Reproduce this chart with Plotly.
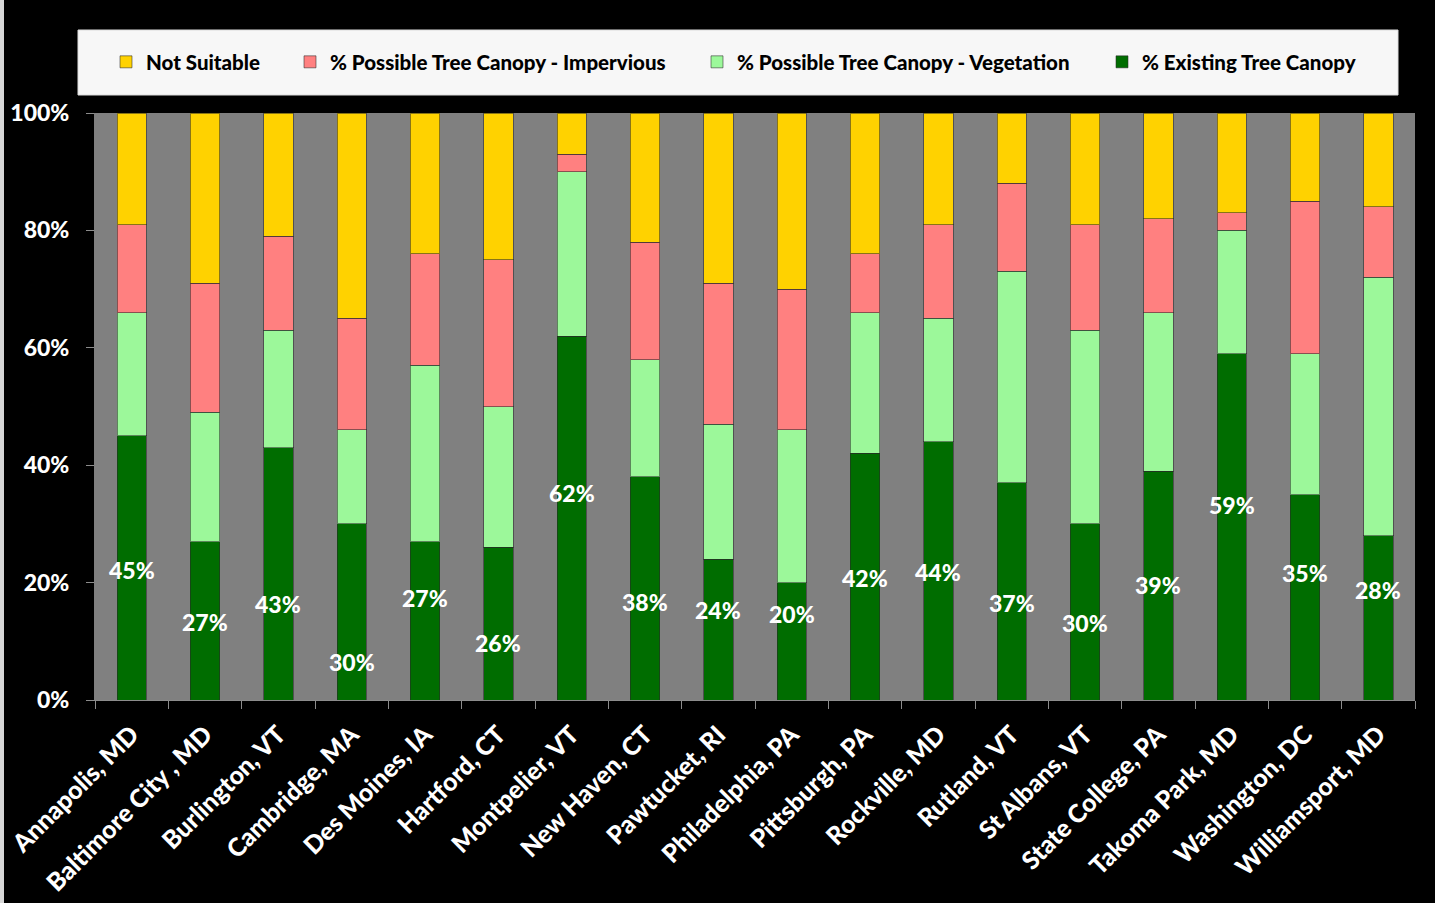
import plotly.graph_objects as go

# Tree canopy assessment by city (share of land area, %)
cities = [
    "Annapolis, MD", "Baltimore City , MD", "Burlington, VT", "Cambridge, MA",
    "Des Moines, IA", "Hartford, CT", "Montpelier, VT", "New Haven, CT",
    "Pawtucket, RI", "Philadelphia, PA", "Pittsburgh, PA", "Rockville, MD",
    "Rutland, VT", "St Albans, VT", "State College, PA", "Takoma Park, MD",
    "Washington, DC", "Williamsport, MD",
]
existing_canopy = [45, 27, 43, 30, 27, 26, 62, 38, 24, 20, 42, 44, 37, 30, 39, 59, 35, 28]
possible_vegetation = [21, 22, 20, 16, 30, 24, 28, 20, 23, 26, 24, 21, 36, 33, 27, 21, 24, 44]
possible_impervious = [15, 22, 16, 19, 19, 25, 3, 20, 24, 24, 10, 16, 15, 18, 16, 3, 26, 12]
not_suitable = [19, 29, 21, 35, 24, 25, 7, 22, 29, 30, 24, 19, 12, 19, 18, 17, 15, 16]

# Height (in %) at which each existing-canopy label is written
label_heights = [22.1, 13.3, 16.4, 6.5, 17.4, 9.7, 35.3, 16.7, 15.3, 14.7,
                 20.8, 21.8, 16.5, 13.1, 19.6, 33.2, 21.6, 18.7]

y_ticks = [0, 20, 40, 60, 80, 100]
y_tick_text = ["0%", "20%", "40%", "60%", "80%", "100%"]

W, H = 1435, 903
PLOT_L, PLOT_R, PLOT_T, PLOT_B = 95, 1415, 113, 700
FONT = "Lato"
WEIGHT = 900


def px_x(px):
    return (px - PLOT_L) / (PLOT_R - PLOT_L)


def px_y(py):
    return (PLOT_B - py) / (PLOT_B - PLOT_T)


series = [
    ("% Existing Tree Canopy", existing_canopy, "#006d00", "legend4", 1142),
    ("% Possible Tree Canopy - Vegetation", possible_vegetation, "#9cf89a", "legend3", 737),
    ("% Possible Tree Canopy - Impervious", possible_impervious, "#ff8080", "legend2", 330),
    ("Not Suitable", not_suitable, "#ffd200", "legend", 146),
]

fig = go.Figure()
legend_layout = {}
for name, values, color, legend_id, text_px in series:
    fig.add_trace(go.Bar(
        x=cities, y=values, name=name, legend=legend_id,
        marker=dict(color=color, line=dict(color="rgba(40,40,40,0.55)", width=1)),
        hoverinfo="x+y+name",
    ))
    legend_layout[legend_id] = dict(
        x=px_x(text_px - 40), xanchor="left",
        y=px_y(62), yanchor="middle",
        orientation="h", bgcolor="rgba(0,0,0,0)", borderwidth=0,
        font=dict(family=FONT, size=20.5, color="black", weight=WEIGHT),
        itemclick=False, itemdoubleclick=False,
    )

annotations = [
    dict(x=c, y=h, text=f"{v}%", xref="x", yref="y", showarrow=False,
         font=dict(family=FONT, size=23, color="white", weight=WEIGHT))
    for c, v, h in zip(cities, existing_canopy, label_heights)
]

shapes = [
    # legend panel
    dict(type="rect", xref="paper", yref="paper", layer="below",
         x0=px_x(78), x1=px_x(1398), y0=px_y(95), y1=px_y(30),
         fillcolor="#f7f7f7", line=dict(color="#dcdcdc", width=1)),
    # thin light frame on the left edge
    dict(type="rect", xref="paper", yref="paper", layer="below",
         x0=px_x(0), x1=px_x(4), y0=px_y(H), y1=px_y(0),
         fillcolor="#d8d8d8", line=dict(width=0)),
]

fig.update_layout(
    width=W, height=H,
    margin=dict(l=PLOT_L, r=W - PLOT_R, t=PLOT_T, b=H - PLOT_B, autoexpand=False),
    barmode="stack", bargap=0.6,
    paper_bgcolor="black", plot_bgcolor="#808080",
    font=dict(family=FONT, color="white"),
    annotations=annotations, shapes=shapes,
    showlegend=True,
    **legend_layout,
)

fig.update_xaxes(
    type="category", tickangle=-45,
    tickfont=dict(family=FONT, size=25, color="white", weight=WEIGHT),
    ticks="outside", tickson="boundaries", ticklen=8, tickcolor="#8c8c8c",
    ticklabelstandoff=9,
    showline=True, linecolor="#8c8c8c", linewidth=1,
    showgrid=False, zeroline=False,
)
fig.update_yaxes(
    range=[0, 100], tickvals=y_ticks, ticktext=y_tick_text,
    tickfont=dict(family=FONT, size=23, color="white", weight=WEIGHT),
    ticks="outside", ticklen=8, tickcolor="#8c8c8c",
    ticklabelstandoff=12,
    showline=True, linecolor="#7f7f7f", linewidth=1,
    showgrid=False, zeroline=False,
)

fig.write_html("out.html")
